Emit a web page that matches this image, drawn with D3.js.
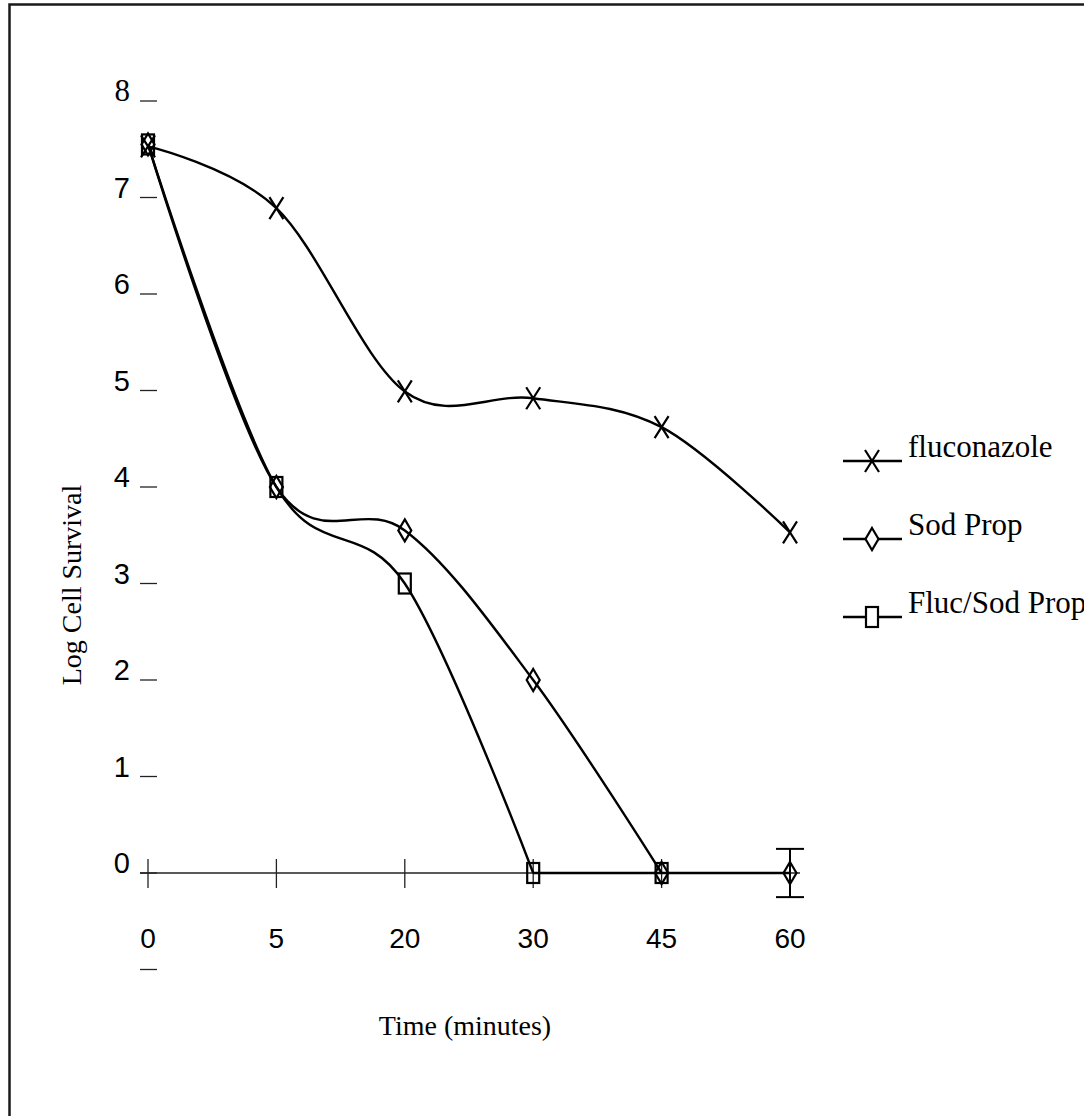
<!DOCTYPE html>
<html>
<head>
<meta charset="utf-8">
<script src="https://cdn.jsdelivr.net/npm/d3@7"></script>
<style>
    body { margin: 0; background: #fff; }
    svg { display: block; }
    .serif { font-family: "Liberation Serif", "Times New Roman", serif; }
    .sans { font-family: "Liberation Sans", Arial, sans-serif; }
</style>
</head>
<body>
<svg id="chart"></svg>
<script>
// chart data
var times = ["0", "5", "20", "30", "45", "60"];
var fluconazole = [7.53, 6.89, 4.99, 4.92, 4.62, 3.53];
var sodProp = [7.55, 4.0, 3.55, 2.0, 0, 0];
var flucSodProp = [7.55, 4.0, 3.0, 0, 0];
var sodPropError = [0, 0, 0, 0, 0, 0.25];
var yTicks = [-1, 0, 1, 2, 3, 4, 5, 6, 7, 8];
var yTickLabels = ["", "0", "1", "2", "3", "4", "5", "6", "7", "8"];
var seriesNames = ["fluconazole", "Sod Prop", "Fluc/Sod Prop"];

function DrawMarker(g, shape, fill) {
    if (shape === "x") {
        g.append("path")
            .attr("d", "M-7,-11L7,11M-7,11L7,-11")
            .attr("stroke", "#000")
            .attr("stroke-width", 2.2)
            .attr("fill", "none");
    } else if (shape === "diamond") {
        g.append("path")
            .attr("d", "M0,-11L6.5,0L0,11L-6.5,0Z")
            .attr("stroke", "#000")
            .attr("stroke-width", 2.2)
            .attr("fill", fill);
    } else {
        g.append("rect")
            .attr("x", -6).attr("y", -10)
            .attr("width", 12).attr("height", 20)
            .attr("stroke", "#000")
            .attr("stroke-width", 2.2)
            .attr("fill", fill);
    }
}

function DrawChart() {
    var svgWidth = 1084;
    var svgHeight = 1116;
    var svg = d3.select("svg#chart")
        .attr("width", svgWidth)
        .attr("height", svgHeight);

    // frame (only top and left edges are inside the picture)
    svg.append("rect")
        .attr("x", 9.5).attr("y", 4.5)
        .attr("width", svgWidth + 20).attr("height", svgHeight + 20)
        .attr("fill", "none")
        .attr("stroke", "#1a1a1a")
        .attr("stroke-width", 2.5);

    var x = d3.scalePoint().domain(times).range([148, 790]);
    var y = d3.scaleLinear().domain([-1, 8]).range([969.5, 101]);

    // y ticks: little dashes, no axis line
    var yAxis = svg.append("g").attr("class", "y-axis");
    yAxis.selectAll("line")
        .data(yTicks)
        .enter()
        .append("line")
        .attr("x1", 140).attr("x2", 157)
        .attr("y1", function (d) { return y(d); })
        .attr("y2", function (d) { return y(d); })
        .attr("stroke", "#222")
        .attr("stroke-width", 1.3);
    yAxis.selectAll("text")
        .data(yTicks)
        .enter()
        .append("text")
        .attr("class", function (d) { return d === 8 ? "serif" : "sans"; })
        .attr("x", 130)
        .attr("y", function (d) { return y(d); })
        .attr("text-anchor", "end")
        .attr("font-size", function (d) { return d === 8 ? 31 : 29; })
        .text(function (d, i) { return yTickLabels[i]; });

    // x axis at zero
    var xAxis = svg.append("g").attr("class", "x-axis");
    xAxis.append("line")
        .attr("x1", 140).attr("x2", 800)
        .attr("y1", y(0)).attr("y2", y(0))
        .attr("stroke", "#222")
        .attr("stroke-width", 1.3);
    xAxis.selectAll("line.tick")
        .data(times)
        .enter()
        .append("line")
        .attr("class", "tick")
        .attr("x1", function (d) { return x(d); })
        .attr("x2", function (d) { return x(d); })
        .attr("y1", y(0) - 14).attr("y2", y(0) + 15)
        .attr("stroke", "#222")
        .attr("stroke-width", 1.3);
    xAxis.selectAll("text")
        .data(times)
        .enter()
        .append("text")
        .attr("class", "sans")
        .attr("x", function (d) { return x(d); })
        .attr("y", 948)
        .attr("text-anchor", "middle")
        .attr("font-size", 28)
        .text(function (d) { return d; });

    // axis titles
    svg.append("text")
        .attr("class", "serif")
        .attr("transform", "translate(81,585) rotate(-90)")
        .attr("text-anchor", "middle")
        .attr("font-size", 28)
        .text("Log Cell Survival");
    svg.append("text")
        .attr("class", "serif")
        .attr("x", 465).attr("y", 1035)
        .attr("text-anchor", "middle")
        .attr("font-size", 28)
        .text("Time (minutes)");

    // series
    var series = [
        { name: seriesNames[0], values: fluconazole, shape: "x" },
        { name: seriesNames[1], values: sodProp, shape: "diamond" },
        { name: seriesNames[2], values: flucSodProp, shape: "square" }
    ];

    var smooth = d3.line()
        .x(function (d) { return x(d.t); })
        .y(function (d) { return y(d.v); })
        .curve(d3.curveCardinal.tension(0));
    var straight = d3.line()
        .x(function (d) { return x(d.t); })
        .y(function (d) { return y(d.v); });

    series.forEach(function (s) {
        var pts = s.values.map(function (v, i) { return { t: times[i], v: v }; });
        // smoothed down to the first zero, straight along zero after it
        var k = s.values.indexOf(0);
        if (k < 0) k = pts.length - 1;
        svg.append("path")
            .datum(pts.slice(0, k + 1))
            .attr("d", smooth)
            .attr("fill", "none")
            .attr("stroke", "#000")
            .attr("stroke-width", 2.4);
        if (k < pts.length - 1) {
            svg.append("path")
                .datum(pts.slice(k))
                .attr("d", straight)
                .attr("fill", "none")
                .attr("stroke", "#000")
                .attr("stroke-width", 2.4);
        }
    });

    // error bar on Sod Prop
    var errG = svg.append("g").attr("class", "errors");
    sodProp.forEach(function (v, i) {
        var e = sodPropError[i];
        if (!e) return;
        var cx = x(times[i]);
        errG.append("line")
            .attr("x1", cx).attr("x2", cx)
            .attr("y1", y(v + e)).attr("y2", y(v - e))
            .attr("stroke", "#000").attr("stroke-width", 2);
        errG.append("line")
            .attr("x1", cx - 14).attr("x2", cx + 14)
            .attr("y1", y(v + e)).attr("y2", y(v + e))
            .attr("stroke", "#000").attr("stroke-width", 2);
        errG.append("line")
            .attr("x1", cx - 14).attr("x2", cx + 14)
            .attr("y1", y(v - e)).attr("y2", y(v - e))
            .attr("stroke", "#000").attr("stroke-width", 2);
    });

    series.forEach(function (s) {
        svg.append("g").selectAll("g")
            .data(s.values)
            .enter()
            .append("g")
            .attr("transform", function (d, i) {
                return "translate(" + x(times[i]) + "," + y(d) + ")";
            })
            .each(function () { DrawMarker(d3.select(this), s.shape, "none"); });
    });

    // legend
    var legend = svg.append("g").attr("class", "legend");
    var item = legend.selectAll("g")
        .data(series)
        .enter()
        .append("g")
        .attr("transform", function (d, i) { return "translate(0," + (461 + 78 * i) + ")"; });
    item.append("line")
        .attr("x1", 843).attr("x2", 902)
        .attr("y1", 0).attr("y2", 0)
        .attr("stroke", "#000")
        .attr("stroke-width", 2.4);
    item.append("g")
        .attr("transform", "translate(872,0)")
        .each(function (d) { DrawMarker(d3.select(this), d.shape, "#fff"); });
    item.append("text")
        .attr("class", "serif")
        .attr("x", 908).attr("y", -4)
        .attr("font-size", 31)
        .text(function (d) { return d.name; });
}

DrawChart();
</script>
</body>
</html>
